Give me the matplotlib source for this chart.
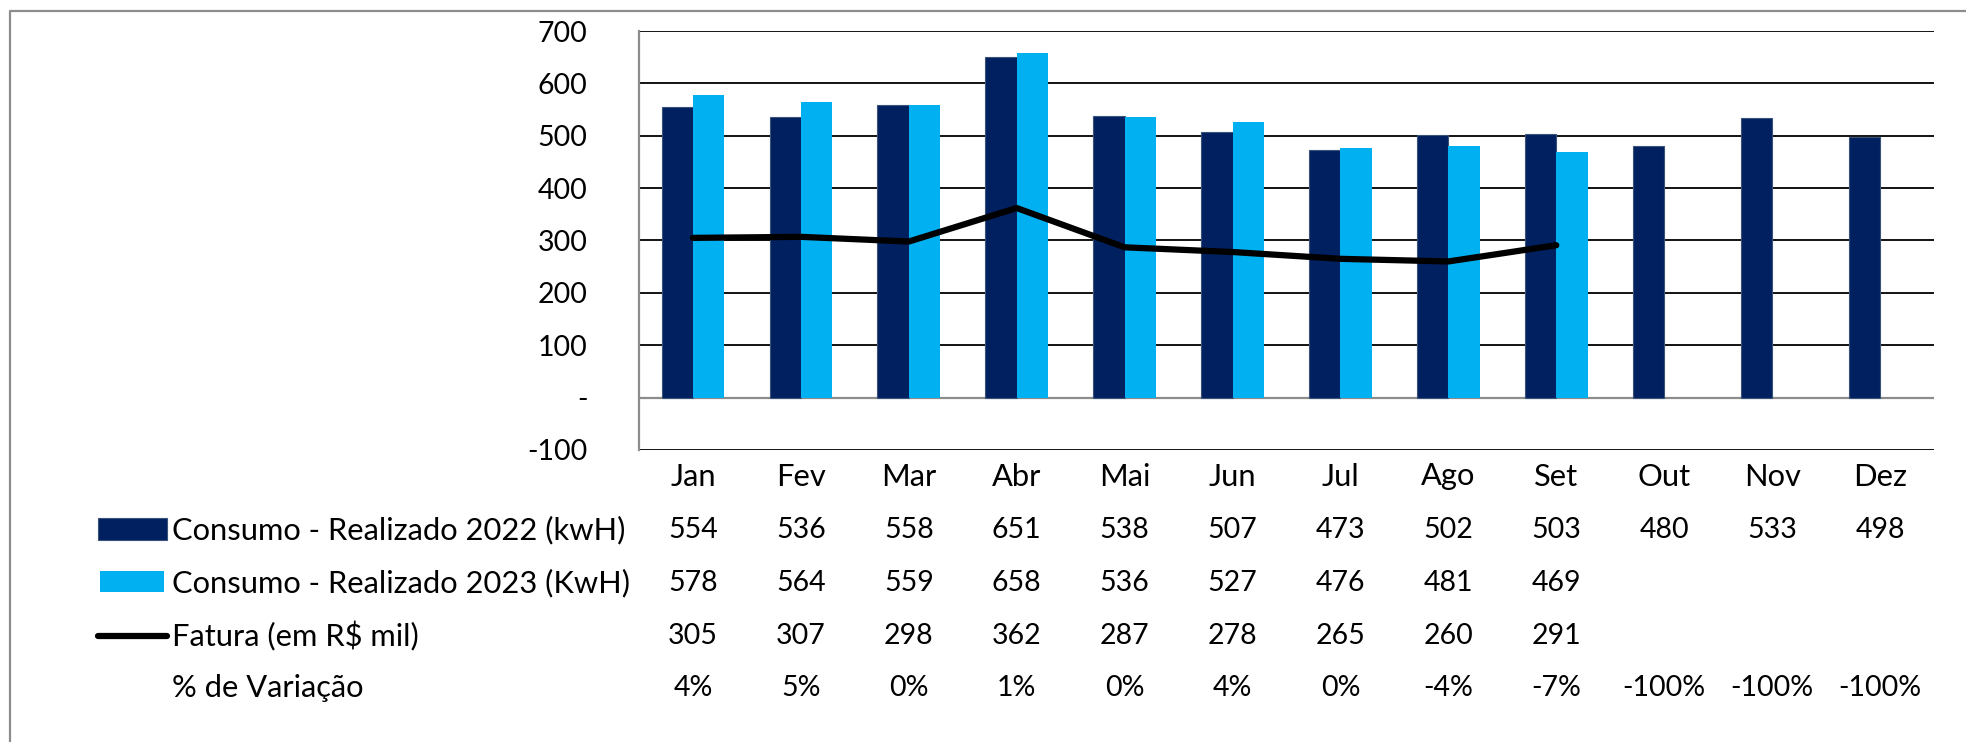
import matplotlib.pyplot as plt
import numpy as np
from matplotlib.lines import Line2D
from matplotlib.patches import Rectangle
from matplotlib.transforms import blended_transform_factory

plt.rcParams["font.family"] = ["Lato", "DejaVu Sans"]

months = ["Jan", "Fev", "Mar", "Abr", "Mai", "Jun", "Jul", "Ago", "Set", "Out", "Nov", "Dez"]
consumo_2022 = [554, 536, 558, 651, 538, 507, 473, 502, 503, 480, 533, 498]
consumo_2023 = [578, 564, 559, 658, 536, 527, 476, 481, 469]
fatura = [305, 307, 298, 362, 287, 278, 265, 260, 291]
variacao = ["4%", "5%", "0%", "1%", "0%", "4%", "0%", "-4%", "-7%", "-100%", "-100%", "-100%"]

row_labels = ["Consumo - Realizado 2022 (kwH)", "Consumo - Realizado 2023 (KwH)",
              "Fatura (em R$ mil)", "% de Variação"]

DARK = "#002060"
LIGHT = "#00B0F0"
W, H = 1966, 742
FS = 20.5      # numbers and ticks
FS_LAB = 22.2  # row labels (reference font is wider)
LW = 4.5       # fatura line

fig = plt.figure(figsize=(W / 100, H / 100), dpi=100)
# plot area in pixel coords: left 639, right 1934, top 31, bottom 450
ax = fig.add_axes([639 / W, 1 - 450 / H, (1934 - 639) / W, (450 - 31) / H])

x = np.arange(len(months))
bw = 0.29
ax.bar(x - bw / 2, consumo_2022, bw, color=DARK, edgecolor="#3A5378", linewidth=0.8, zorder=3)
ax.bar(np.arange(len(consumo_2023)) + bw / 2, consumo_2023, bw, color=LIGHT, linewidth=0, zorder=3)
ax.plot(np.arange(len(fatura)), fatura, color="black", lw=LW, solid_capstyle="round",
        solid_joinstyle="round", zorder=4)

ax.set_xlim(-0.5, len(months) - 0.5)
ax.set_ylim(-100, 700)
yt = np.arange(-100, 701, 100)
ax.set_yticks(yt)
ax.set_yticklabels(["-" if v == 0 else f"{v}" for v in yt], fontsize=FS)
ax.tick_params(axis="y", length=0, pad=37)
for v in yt:
    if v != 0:
        ax.axhline(v, color="black", lw=1.3, zorder=1)
ax.axhline(0, color="#8C8C8C", lw=1.6, zorder=2)

ax.set_xticks(x)
ax.set_xticklabels(months, fontsize=FS_LAB)
ax.tick_params(axis="x", length=0, pad=9)
for s in ["top", "right", "bottom"]:
    ax.spines[s].set_visible(False)
ax.spines["left"].set_color("#8C8C8C")
ax.spines["left"].set_linewidth(1.6)

# data table under the chart
tr = blended_transform_factory(ax.transData, fig.transFigure)
row_y = [530, 583, 636, 688]
rows = [consumo_2022, consumo_2023, fatura, variacao]
for yy, vals in zip(row_y, rows):
    for i, v in enumerate(vals):
        ax.text(i, 1 - yy / H, str(v), transform=tr, ha="center", va="center", fontsize=FS)

for yy, lab in zip(row_y, row_labels):
    fig.text(172 / W, 1 - yy / H, lab, ha="left", va="center", fontsize=FS_LAB)

# legend keys
fig.patches.append(Rectangle((98 / W, 1 - 540 / H), 69 / W, 22 / H, transform=fig.transFigure,
                             facecolor=DARK, edgecolor="#3A5378", lw=0.8))
fig.patches.append(Rectangle((100 / W, 1 - 592 / H), 64 / W, 21 / H, transform=fig.transFigure,
                             facecolor=LIGHT, lw=0))
fig.lines.append(Line2D([98 / W, 167 / W], [1 - 636 / H, 1 - 636 / H], transform=fig.transFigure,
                        color="black", lw=LW, solid_capstyle="round"))

# outer frame (left and top edges visible)
fig.lines.append(Line2D([10 / W, 10 / W, 1], [0, 1 - 11 / H, 1 - 11 / H], transform=fig.transFigure,
                        color="#8C8C8C", lw=1.6))

fig.savefig("out.png", dpi=100)
